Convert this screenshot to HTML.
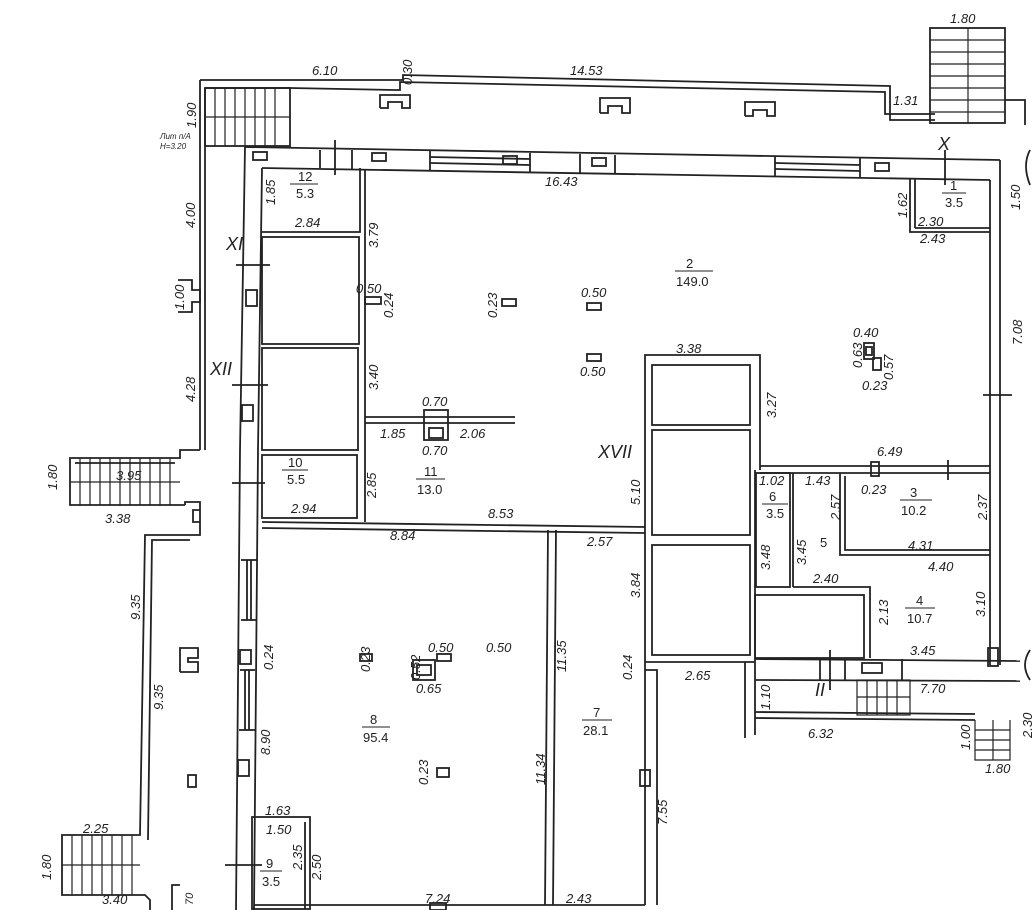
<!DOCTYPE html>
<html><head><meta charset="utf-8"><style>
html,body{margin:0;padding:0;background:#fff;}
svg{display:block}
text{font-family:"Liberation Sans",sans-serif;font-size:13px;font-style:italic;fill:#222}
.n{font-style:normal}
</style></head><body>
<svg width="1035" height="910" viewBox="0 0 1035 910" xmlns="http://www.w3.org/2000/svg">
<g fill="none" stroke="#222" stroke-width="1.8">
<polyline points="200,80 403,80 403,75 890,86 890,120 935,120"/>
<polyline points="205,88 290,88 395,90 400,90 400,82 885,92 885,114 935,114"/>
<line x1="200" y1="80" x2="200" y2="450"/><line x1="205" y1="88" x2="205" y2="450"/>
<rect x="205" y="88" width="85" height="58"/>
<g stroke-width="1.2"><line x1="215" y1="88" x2="215" y2="146"/><line x1="225" y1="88" x2="225" y2="146"/><line x1="235" y1="88" x2="235" y2="146"/><line x1="245" y1="88" x2="245" y2="146"/><line x1="255" y1="88" x2="255" y2="146"/><line x1="265" y1="88" x2="265" y2="146"/><line x1="275" y1="88" x2="275" y2="146"/><line x1="205" y1="117" x2="290" y2="117"/></g>
<polyline points="380,108 380,95 410,95 410,108 402,108 402,102 388,102 388,108 380,108"/>
<polyline points="600,113 600,98 630,98 630,113 622,113 622,106 608,106 608,113 600,113"/>
<polyline points="745,116 745,102 775,102 775,116 767,116 767,110 753,110 753,116 745,116"/>
<rect x="930" y="28" width="75" height="95"/>
<g stroke-width="1.2"><line x1="930" y1="40" x2="1005" y2="40"/><line x1="930" y1="52" x2="1005" y2="52"/><line x1="930" y1="64" x2="1005" y2="64"/><line x1="930" y1="76" x2="1005" y2="76"/><line x1="930" y1="88" x2="1005" y2="88"/><line x1="930" y1="100" x2="1005" y2="100"/><line x1="930" y1="112" x2="1005" y2="112"/><line x1="968" y1="28" x2="968" y2="123"/></g>
<polyline points="1005,100 1025,100 1025,125"/>
<line x1="245" y1="147" x2="1000" y2="160"/><line x1="262" y1="168" x2="990" y2="180"/>
<line x1="320" y1="150" x2="320" y2="168"/><line x1="352" y1="150" x2="352" y2="169"/>
<line x1="430" y1="151" x2="430" y2="170"/><line x1="580" y1="154" x2="580" y2="173"/>
<line x1="530" y1="153" x2="530" y2="172"/><line x1="615" y1="155" x2="615" y2="174"/>
<line x1="775" y1="157" x2="775" y2="176"/><line x1="860" y1="158" x2="860" y2="177"/>
<line x1="430" y1="157" x2="530" y2="159"/><line x1="430" y1="163" x2="530" y2="165"/>
<line x1="775" y1="163" x2="860" y2="165"/><line x1="775" y1="169" x2="860" y2="171"/>
<rect x="253" y="152" width="14" height="8"/><rect x="372" y="153" width="14" height="8"/><rect x="503" y="156" width="14" height="8"/><rect x="592" y="158" width="14" height="8"/><rect x="875" y="163" width="14" height="8"/>
<line x1="335" y1="140" x2="335" y2="175"/><line x1="945" y1="150" x2="945" y2="185"/>
<polyline points="245,147 240,450 236,910"/><polyline points="262,168 258,450 254,910"/>
<rect x="246" y="290" width="11" height="16"/><rect x="242" y="405" width="11" height="16"/><rect x="240" y="650" width="11" height="14"/><rect x="238" y="760" width="11" height="16"/>
<line x1="241" y1="560" x2="257" y2="560"/><line x1="241" y1="620" x2="257" y2="620"/><line x1="240" y1="670" x2="255" y2="670"/><line x1="239" y1="730" x2="255" y2="730"/>
<line x1="247" y1="560" x2="247" y2="620"/><line x1="251" y1="560" x2="251" y2="620"/><line x1="245" y1="670" x2="245" y2="730"/><line x1="249" y1="670" x2="249" y2="730"/>
<line x1="236" y1="265" x2="270" y2="265"/><line x1="232" y1="385" x2="268" y2="385"/><line x1="232" y1="483" x2="265" y2="483"/><line x1="225" y1="865" x2="262" y2="865"/>
<polyline points="262,232 360,232 360,168"/><line x1="365" y1="170" x2="365" y2="522"/>
<rect x="262" y="237" width="97" height="107"/><rect x="262" y="348" width="96" height="102"/><rect x="262" y="455" width="95" height="63"/>
<line x1="262" y1="522" x2="645" y2="527"/><line x1="262" y1="528" x2="645" y2="533"/>
<line x1="365" y1="417" x2="515" y2="417"/><line x1="365" y1="423" x2="515" y2="423"/>
<rect x="424" y="410" width="24" height="30"/><rect x="429" y="428" width="14" height="10"/>
<polyline points="200,450 180,450 180,458 70,458 70,505 185,505"/><line x1="75" y1="463" x2="175" y2="463"/>
<g stroke-width="1.2"><line x1="80" y1="458" x2="80" y2="505"/><line x1="90" y1="458" x2="90" y2="505"/><line x1="100" y1="458" x2="100" y2="505"/><line x1="110" y1="458" x2="110" y2="505"/><line x1="120" y1="458" x2="120" y2="505"/><line x1="130" y1="458" x2="130" y2="505"/><line x1="140" y1="458" x2="140" y2="505"/><line x1="150" y1="458" x2="150" y2="505"/><line x1="160" y1="458" x2="160" y2="505"/><line x1="170" y1="458" x2="170" y2="505"/><line x1="70" y1="482" x2="180" y2="482"/></g>
<polyline points="185,505 185,502 200,502 200,535 183,535 145,535 140,835 62,835 62,895 145,895 150,900 150,910"/>
<polyline points="190,540 152,540 148,840"/>
<polyline points="200,510 193,510 193,522 200,522"/>
<g stroke-width="1.2"><line x1="72" y1="835" x2="72" y2="895"/><line x1="82" y1="835" x2="82" y2="895"/><line x1="92" y1="835" x2="92" y2="895"/><line x1="102" y1="835" x2="102" y2="895"/><line x1="112" y1="835" x2="112" y2="895"/><line x1="122" y1="835" x2="122" y2="895"/><line x1="132" y1="835" x2="132" y2="895"/><line x1="62" y1="865" x2="140" y2="865"/></g>
<polyline points="180,885 172,885 172,910"/>
<polyline points="178,280 192,280 192,290 200,290 200,302 192,302 192,312 178,312"/>
<polyline points="180,672 180,648 198,648 198,658 188,658 188,662 198,662 198,672 180,672"/>
<rect x="188" y="775" width="8" height="12"/>
<rect x="252" y="817" width="58" height="92"/><line x1="305" y1="822" x2="305" y2="909"/>
<line x1="548" y1="530" x2="545" y2="905"/><line x1="556" y1="530" x2="553" y2="905"/>
<line x1="254" y1="905" x2="645" y2="905"/><rect x="430" y="903" width="16" height="7"/>
<polyline points="645,670 657,670 657,905"/><line x1="645" y1="670" x2="645" y2="905"/>
<rect x="640" y="770" width="10" height="16"/>
<polyline points="645,535 645,355 760,355 760,470"/><line x1="645" y1="535" x2="645" y2="670"/>
<rect x="652" y="365" width="98" height="60"/><rect x="652" y="430" width="98" height="105"/><rect x="652" y="545" width="98" height="110"/>
<line x1="645" y1="662" x2="755" y2="662"/>
<line x1="755" y1="470" x2="755" y2="735"/><line x1="745" y1="662" x2="745" y2="738"/>
<line x1="760" y1="466" x2="990" y2="466"/><line x1="760" y1="473" x2="990" y2="473"/>
<rect x="871" y="462" width="8" height="14"/><line x1="948" y1="460" x2="948" y2="480"/>
<rect x="756" y="473" width="34" height="114"/><line x1="793" y1="473" x2="793" y2="587"/>
<polyline points="793,587 870,587 870,658"/><rect x="755" y="595" width="109" height="63"/>
<polyline points="840,473 840,555 990,555"/><polyline points="845,476 845,550 990,550"/>
<line x1="1000" y1="160" x2="1000" y2="665"/><line x1="990" y1="180" x2="990" y2="665"/>
<rect x="988" y="648" width="10" height="18"/><line x1="983" y1="395" x2="1012" y2="395"/>
<polyline points="910,178 910,232 990,232"/><line x1="915" y1="178" x2="915" y2="228"/><line x1="915" y1="228" x2="990" y2="228"/>
<line x1="755" y1="659" x2="1020" y2="661"/><line x1="755" y1="680" x2="1020" y2="681"/>
<line x1="755" y1="712" x2="975" y2="714"/><line x1="755" y1="718" x2="975" y2="720"/>
<rect x="862" y="663" width="20" height="10"/><line x1="820" y1="659" x2="820" y2="680"/><line x1="845" y1="659" x2="845" y2="680"/><line x1="902" y1="659" x2="902" y2="680"/>
<line x1="830" y1="650" x2="830" y2="690"/>
<g stroke-width="1.2"><rect x="857" y="680" width="53" height="35"/><line x1="867" y1="680" x2="867" y2="715"/><line x1="877" y1="680" x2="877" y2="715"/><line x1="887" y1="680" x2="887" y2="715"/><line x1="897" y1="680" x2="897" y2="715"/><line x1="857" y1="697" x2="910" y2="697"/>
<polyline points="975,720 975,760 1010,760 1010,720"/><line x1="975" y1="730" x2="1010" y2="730"/><line x1="975" y1="740" x2="1010" y2="740"/><line x1="975" y1="750" x2="1010" y2="750"/><line x1="993" y1="720" x2="993" y2="760"/></g>
<path d="M1030,650 Q1020,665 1030,680"/><path d="M1030,150 Q1022,165 1030,185"/>
<rect x="365" y="297" width="16" height="7"/><rect x="502" y="299" width="14" height="7"/><rect x="587" y="303" width="14" height="7"/><rect x="587" y="354" width="14" height="7"/>
<rect x="864" y="343" width="10" height="16"/><rect x="866" y="347" width="6" height="8"/><rect x="873" y="358" width="8" height="12"/>
<rect x="360" y="654" width="12" height="7"/><rect x="413" y="660" width="22" height="20"/><rect x="417" y="665" width="14" height="10"/><rect x="437" y="654" width="14" height="7"/><rect x="437" y="768" width="12" height="9"/>
</g>
<text x="312" y="75">6.10</text><text x="570" y="75">14.53</text><text x="950" y="23">1.80</text><text x="893" y="105">1.31</text>
<text x="160" y="139" style="font-size:8px">Лит п/А</text><text x="160" y="149" style="font-size:8px">Н=3.20</text>
<text x="298" y="181" class="n">12</text><line x1="290" y1="184" x2="318" y2="184" stroke="#222"/><text x="296" y="198" class="n">5.3</text>
<text x="295" y="227">2.84</text><text x="545" y="186">16.43</text><text x="938" y="150" style="font-size:18px">X</text>
<text x="226" y="250" style="font-size:18px">XI</text><text x="210" y="375" style="font-size:18px">XII</text><text x="598" y="458" style="font-size:18px">XVII</text>
<text x="356" y="293">0.50</text><text x="581" y="297">0.50</text><text x="580" y="376">0.50</text>
<text x="686" y="268" class="n">2</text><line x1="675" y1="271" x2="713" y2="271" stroke="#222"/><text x="676" y="286" class="n">149.0</text>
<text x="950" y="190" class="n">1</text><line x1="942" y1="193" x2="966" y2="193" stroke="#222"/><text x="945" y="207" class="n">3.5</text>
<text x="918" y="226">2.30</text><text x="920" y="243">2.43</text><text x="853" y="337">0.40</text><text x="862" y="390">0.23</text>
<text x="676" y="353">3.38</text><text x="422" y="406">0.70</text><text x="422" y="455">0.70</text><text x="380" y="438">1.85</text><text x="460" y="438">2.06</text>
<text x="288" y="467" class="n">10</text><line x1="282" y1="470" x2="308" y2="470" stroke="#222"/><text x="287" y="484" class="n">5.5</text>
<text x="291" y="513">2.94</text><text x="488" y="518">8.53</text>
<text x="424" y="476" class="n">11</text><line x1="416" y1="479" x2="445" y2="479" stroke="#222"/><text x="417" y="494" class="n">13.0</text>
<text x="390" y="540">8.84</text><text x="587" y="546">2.57</text><text x="877" y="456">6.49</text><text x="861" y="494">0.23</text>
<text x="759" y="485">1.02</text><text x="805" y="485">1.43</text><text x="769" y="501" class="n">6</text><line x1="762" y1="504" x2="788" y2="504" stroke="#222"/><text x="766" y="518" class="n">3.5</text>
<text x="910" y="497" class="n">3</text><line x1="900" y1="500" x2="932" y2="500" stroke="#222"/><text x="901" y="515" class="n">10.2</text>
<text x="908" y="550">4.31</text><text x="928" y="571">4.40</text><text x="820" y="547" class="n">5</text><text x="813" y="583">2.40</text>
<text x="916" y="605" class="n">4</text><line x1="905" y1="608" x2="935" y2="608" stroke="#222"/><text x="907" y="623" class="n">10.7</text>
<text x="910" y="655">3.45</text><text x="920" y="693">7.70</text><text x="685" y="680">2.65</text><text x="815" y="696" style="font-size:18px">II</text><text x="808" y="738">6.32</text>
<text x="428" y="652">0.50</text><text x="486" y="652">0.50</text><text x="416" y="693">0.65</text>
<text x="370" y="724" class="n">8</text><line x1="362" y1="727" x2="390" y2="727" stroke="#222"/><text x="363" y="742" class="n">95.4</text>
<text x="593" y="717" class="n">7</text><line x1="582" y1="720" x2="612" y2="720" stroke="#222"/><text x="583" y="735" class="n">28.1</text>
<text x="116" y="480">3.95</text><text x="105" y="523">3.38</text><text x="83" y="833">2.25</text><text x="102" y="904">3.40</text>
<text x="265" y="815">1.63</text><text x="266" y="834">1.50</text><text x="266" y="868" class="n">9</text><line x1="260" y1="871" x2="282" y2="871" stroke="#222"/><text x="262" y="886" class="n">3.5</text>
<text x="425" y="903">7.24</text><text x="566" y="903">2.43</text><text x="985" y="773">1.80</text>
<g>
<text transform="translate(412,85) rotate(-90)">0.30</text><text transform="translate(196,128) rotate(-90)">1.90</text><text transform="translate(195,228) rotate(-90)">4.00</text><text transform="translate(184,310) rotate(-90)">1.00</text><text transform="translate(195,402) rotate(-90)">4.28</text>
<text transform="translate(275,205) rotate(-90)">1.85</text><text transform="translate(378,248) rotate(-90)">3.79</text><text transform="translate(393,318) rotate(-90)">0.24</text><text transform="translate(497,318) rotate(-90)">0.23</text><text transform="translate(378,390) rotate(-90)">3.40</text><text transform="translate(376,498) rotate(-90)">2.85</text>
<text transform="translate(57,490) rotate(-90)">1.80</text><text transform="translate(140,620) rotate(-90)">9.35</text><text transform="translate(163,710) rotate(-90)">9.35</text><text transform="translate(51,880) rotate(-90)">1.80</text>
<text transform="translate(273,670) rotate(-90)">0.24</text><text transform="translate(270,755) rotate(-90)">8.90</text><text transform="translate(302,870) rotate(-90)">2.35</text><text transform="translate(321,880) rotate(-90)">2.50</text><text transform="translate(193,905) rotate(-90)" style="font-size:11px">70</text>
<text transform="translate(370,672) rotate(-90)">0.23</text><text transform="translate(420,680) rotate(-90)">0.52</text><text transform="translate(428,785) rotate(-90)">0.23</text>
<text transform="translate(566,672) rotate(-90)">11.35</text><text transform="translate(545,785) rotate(-90)">11.34</text><text transform="translate(640,598) rotate(-90)">3.84</text><text transform="translate(632,680) rotate(-90)">0.24</text><text transform="translate(667,825) rotate(-90)">7.55</text>
<text transform="translate(640,505) rotate(-90)">5.10</text><text transform="translate(776,418) rotate(-90)">3.27</text>
<text transform="translate(770,570) rotate(-90)">3.48</text><text transform="translate(806,565) rotate(-90)">3.45</text><text transform="translate(840,520) rotate(-90)">2.57</text><text transform="translate(888,625) rotate(-90)">2.13</text>
<text transform="translate(987,520) rotate(-90)">2.37</text><text transform="translate(985,617) rotate(-90)">3.10</text><text transform="translate(1022,345) rotate(-90)">7.08</text><text transform="translate(907,218) rotate(-90)">1.62</text><text transform="translate(1020,210) rotate(-90)">1.50</text>
<text transform="translate(862,368) rotate(-90)">0.63</text><text transform="translate(893,380) rotate(-90)">0.57</text>
<text transform="translate(770,710) rotate(-90)">1.10</text><text transform="translate(970,750) rotate(-90)">1.00</text><text transform="translate(1032,738) rotate(-90)">2.30</text>
</g>
</svg>
</body></html>
